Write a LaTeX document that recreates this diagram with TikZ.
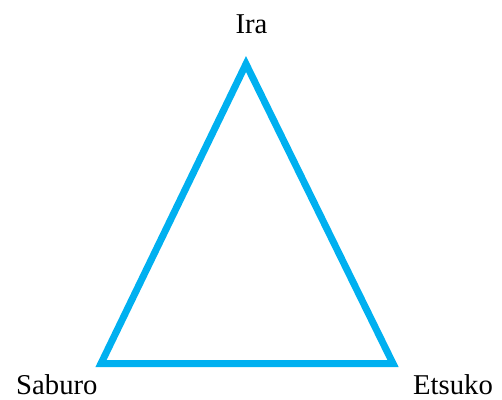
\documentclass[tikz,border=0pt]{standalone}
\usepackage{fontspec}
\setmainfont{Liberation Serif}
\definecolor{tcyan}{HTML}{00B0F0}
\begin{document}
\begin{tikzpicture}[x=1pt,y=-1pt,
  lbl/.style={font=\fontsize{28.7}{32}\selectfont, inner sep=0pt},
  side/.style={tcyan, line width=7pt, line join=miter}]
 \useasboundingbox (0,0) rectangle (502,399);
 \coordinate (top) at (246,64);
 \coordinate (sab) at (101,363.5);
 \coordinate (ets) at (393,363.5);
 \draw[side] (top) -- (sab) -- (ets) -- cycle;
 \node[lbl, anchor=base] (ira) at (251.5,33) {Ira};
 \node[lbl, anchor=base west] (saburo) at (16,394) {Saburo};
 \node[lbl, anchor=base west] (etsuko) at (413,394) {Etsuko};
\end{tikzpicture}
\end{document}
